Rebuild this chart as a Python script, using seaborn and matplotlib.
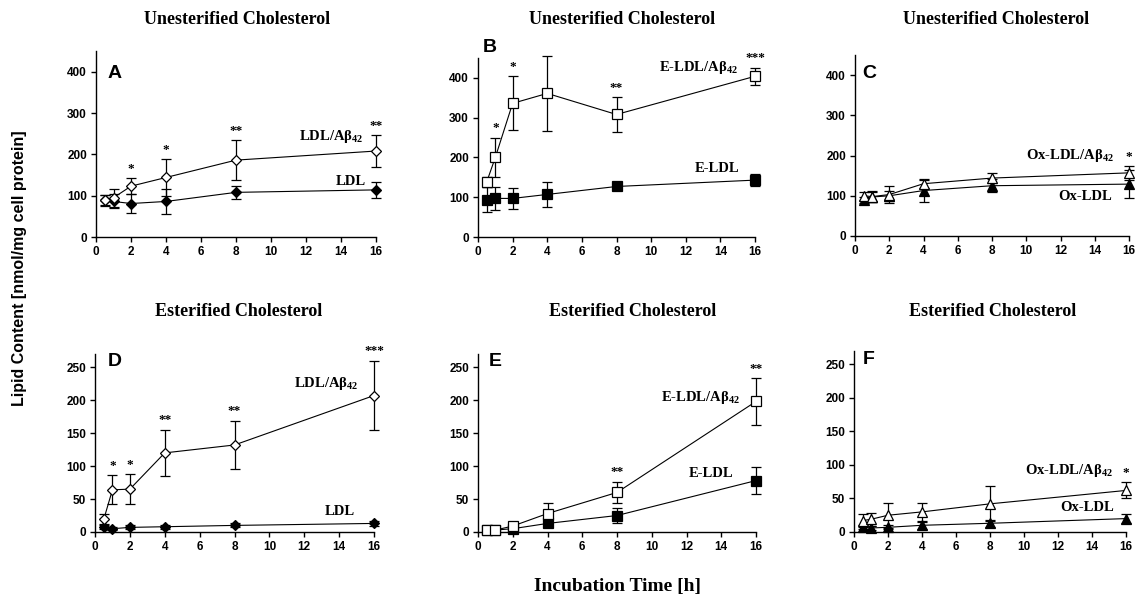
import matplotlib
matplotlib.use("Agg")
import matplotlib.pyplot as plt
import pandas as pd
import seaborn as sns

# Incubation times (h)
hours = [0.5, 1, 2, 4, 8, 16]

# Unesterified cholesterol, nmol/mg cell protein (mean, SD)
ldl_ab_free = [89, 95, 123, 144, 186, 208]
ldl_ab_free_sd = [13, 22, 19, 44, 48, 38]
ldl_free = [89, 86, 81, 86, 108, 114]
ldl_free_sd = [12, 17, 24, 31, 15, 19]

eldl_ab_free = [138, 200, 336, 361, 308, 404]
eldl_ab_free_sd = [13, 49, 68, 95, 43, 22]
eldl_free = [94, 97, 97, 107, 127, 143]
eldl_free_sd = [31, 28, 26, 31, 8, 16]

oxldl_ab_free = [100, 98, 103, 130, 144, 157]
oxldl_ab_free_sd = [10, 14, 22, 10, 12, 17]
oxldl_free = [89, 97, 100, 113, 125, 129]
oxldl_free_sd = [8, 12, 13, 28, 16, 35]

# Esterified cholesterol, nmol/mg cell protein (mean, SD)
ldl_ab_ester = [19, 64, 65, 120, 132, 207]
ldl_ab_ester_sd = [8, 22, 23, 35, 37, 53]
ldl_ester = [8, 5, 7, 8, 10, 13]
ldl_ester_sd = [4, 2, 3, 3, 3, 4]

eldl_ab_ester = [3, 3, 9, 28, 60, 198]
eldl_ab_ester_sd = [1, 1, 2, 16, 16, 35]
eldl_ester = [3, 3, 5, 13, 25, 78]
eldl_ester_sd = [1, 1, 2, 6, 11, 20]

oxldl_ab_ester = [17, 19, 25, 30, 42, 62]
oxldl_ab_ester_sd = [10, 10, 19, 14, 26, 12]
oxldl_ester = [7, 6, 7, 10, 13, 20]
oxldl_ester_sd = [3, 3, 3, 5, 5, 7]

# Significance marks (Aβ42-treated vs. lipoprotein alone) per time point
stars_a = ["", "", "*", "*", "**", "**"]
stars_b = ["", "*", "*", "**", "**", "***"]
stars_c = ["", "", "", "", "", "*"]
stars_d = ["", "*", "*", "**", "**", "***"]
stars_e = ["", "", "", "", "**", "**"]
stars_f = ["", "", "", "", "", "*"]

titles = ["Unesterified Cholesterol", "Esterified Cholesterol"]
x_ticks = [0, 2, 4, 6, 8, 10, 12, 14, 16]
free_ticks = [0, 100, 200, 300, 400]
ester_ticks = [0, 50, 100, 150, 200, 250]

sns.set_style("ticks")
plt.rcParams.update({
    "font.family": ["Liberation Sans", "DejaVu Sans"],
    "mathtext.fontset": "custom",
    "mathtext.rm": "Liberation Serif:bold",
    "mathtext.it": "Liberation Serif:bold",
    "mathtext.bf": "Liberation Serif:bold",
    "text.color": "black",
    "axes.labelcolor": "black",
    "axes.linewidth": 1.0,
    "axes.edgecolor": "black",
    "xtick.major.width": 1.0,
    "ytick.major.width": 1.0,
    "xtick.major.size": 3.5,
    "ytick.major.size": 3.5,
    "xtick.color": "black",
    "ytick.color": "black",
})

W, H = 1138, 599
fig = plt.figure(figsize=(W / 100, H / 100), dpi=100)


def rect(left, right, bottom, top):
    return [left / W, 1 - bottom / H, (right - left) / W, (bottom - top) / H]


SERIF = dict(family="Liberation Serif", weight="bold", color="black")

panels = [
    dict(box=rect(96, 376, 237, 51), letter="A", lpos=(115, 73), ylim=450, yticks=free_ticks,
         title=titles[0], tpos=(237, 20), marker="D", msize=5.2, stars=stars_a,
         open=(ldl_ab_free, ldl_ab_free_sd, "LDL/Aβ$_{42}$", (15.3, 243)),
         filled=(ldl_free, ldl_free_sd, "LDL", (15.4, 134))),
    dict(box=rect(478, 755, 237, 58), letter="B", lpos=(490, 48), ylim=450, yticks=free_ticks,
         title=titles[0], tpos=(622, 20), marker="s", msize=6.5, stars=stars_b,
         open=(eldl_ab_free, eldl_ab_free_sd, "E-LDL/Aβ$_{42}$", (15.0, 425)),
         filled=(eldl_free, eldl_free_sd, "E-LDL", (15.1, 172))),
    dict(box=rect(855, 1129, 236, 55), letter="C", lpos=(869, 73), ylim=450, yticks=free_ticks,
         title=titles[0], tpos=(996, 20), marker="^", msize=7, stars=stars_c,
         open=(oxldl_ab_free, oxldl_ab_free_sd, "Ox-LDL/Aβ$_{42}$", (15.1, 201)),
         filled=(oxldl_free, oxldl_free_sd, "Ox-LDL", (15.0, 97))),
    dict(box=rect(95, 374, 532, 354), letter="D", lpos=(115, 361), ylim=270, yticks=ester_ticks,
         title=titles[1], tpos=(239, 311), marker="D", msize=5.2, stars=stars_d,
         open=(ldl_ab_ester, ldl_ab_ester_sd, "LDL/Aβ$_{42}$", (15.1, 225)),
         filled=(ldl_ester, ldl_ester_sd, "LDL", (14.9, 31))),
    dict(box=rect(478, 756, 532, 354), letter="E", lpos=(495, 361), ylim=270, yticks=ester_ticks,
         title=titles[1], tpos=(633, 311), marker="s", msize=6.5, stars=stars_e,
         open=(eldl_ab_ester, eldl_ab_ester_sd, "E-LDL/Aβ$_{42}$", (15.1, 204)),
         filled=(eldl_ester, eldl_ester_sd, "E-LDL", (14.7, 88))),
    dict(box=rect(854, 1126, 532, 351), letter="F", lpos=(869, 360), ylim=270, yticks=ester_ticks,
         title=titles[1], tpos=(993, 311), marker="^", msize=7, stars=stars_f,
         open=(oxldl_ab_ester, oxldl_ab_ester_sd, "Ox-LDL/Aβ$_{42}$", (15.2, 91)),
         filled=(oxldl_ester, oxldl_ester_sd, "Ox-LDL", (15.3, 36))),
]


def draw_series(ax, means, sds, marker, msize, face):
    df = pd.DataFrame({"hours": hours, "value": means})
    ax.errorbar(hours, means, yerr=sds, fmt="none", ecolor="black", elinewidth=0.9,
                capsize=3.5, capthick=0.9, zorder=2, clip_on=False)
    sns.lineplot(data=df, x="hours", y="value", ax=ax, errorbar=None, color="black",
                 linewidth=0.8, marker=marker, markersize=msize, markerfacecolor=face,
                 markeredgecolor="black", markeredgewidth=0.9, zorder=3, clip_on=False)


for p in panels:
    ax = fig.add_axes(p["box"])
    means, sds, lab, (lx, ly) = p["filled"]
    draw_series(ax, means, sds, p["marker"], p["msize"], "black")
    ax.text(lx, ly, lab, ha="right", va="center", fontsize=10.5, **SERIF)
    means, sds, lab, (lx, ly) = p["open"]
    draw_series(ax, means, sds, p["marker"], p["msize"], "white")
    ax.text(lx, ly, lab, ha="right", va="center", fontsize=10.5, **SERIF)
    for t, m, s, st in zip(hours, means, sds, p["stars"]):
        if st:
            ax.annotate(st, (t, m + s), xytext=(0, 2.5), textcoords="offset points",
                        ha="center", va="bottom", fontsize=9.5, **SERIF)

    ax.set_xlim(0, 16)
    ax.set_ylim(0, p["ylim"])
    ax.set_xticks(x_ticks)
    ax.set_yticks(p["yticks"])
    ax.set_xlabel("")
    ax.set_ylabel("")
    ax.tick_params(labelsize=8.5, pad=3)
    for lbl in ax.get_xticklabels() + ax.get_yticklabels():
        lbl.set_fontweight("bold")
    sns.despine(ax=ax)

    fig.text(p["lpos"][0] / W, 1 - p["lpos"][1] / H, p["letter"], ha="center", va="center",
             fontsize=14, fontweight="bold", family="Liberation Sans", color="black")
    fig.text(p["tpos"][0] / W, 1 - p["tpos"][1] / H, p["title"], ha="center", va="center",
             fontsize=13, **SERIF)

fig.text(20 / W, 1 - 268 / H, "Lipid Content [nmol/mg cell protein]", rotation=90,
         ha="center", va="center", fontsize=11.5, fontweight="bold", family="Liberation Sans",
         color="black")
fig.text(618 / W, 1 - 586 / H, "Incubation Time [h]", ha="center", va="center",
         fontsize=14, **SERIF)

fig.savefig("out.png", dpi=100)
